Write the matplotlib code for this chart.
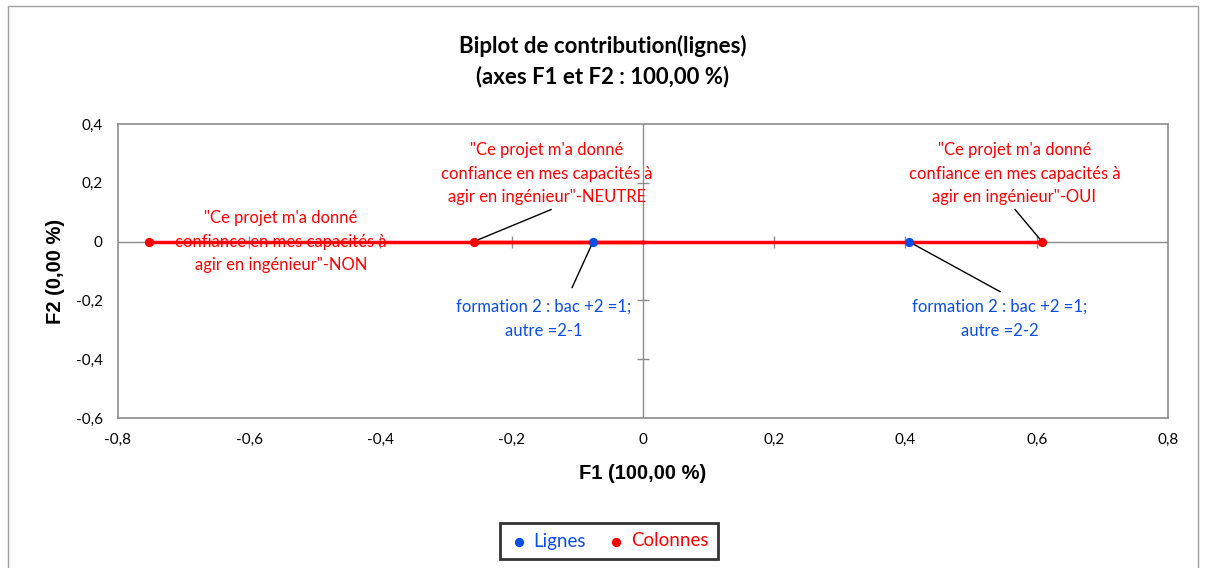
import matplotlib
matplotlib.use('Agg')
from matplotlib import pyplot as plt
from matplotlib.patches import Rectangle

plt.rcParams['font.family'] = ['Lato', 'DejaVu Sans']

# donnees
lignes_noms = ['formation 2 : bac +2 =1;\nautre =2-1', 'formation 2 : bac +2 =1;\nautre =2-2']
lignes_f1 = [-0.076, 0.405]
lignes_f2 = [0.0, 0.0]

colonnes_noms = ['"Ce projet m\'a donné\nconfiance en mes capacités à\nagir en ingénieur"-NON',
                 '"Ce projet m\'a donné\nconfiance en mes capacités à\nagir en ingénieur"-NEUTRE',
                 '"Ce projet m\'a donné\nconfiance en mes capacités à\nagir en ingénieur"-OUI']
colonnes_f1 = [-0.752, -0.258, 0.608]
colonnes_f2 = [0.0, 0.0, 0.0]

xticks = [-0.8, -0.6, -0.4, -0.2, 0, 0.2, 0.4, 0.6, 0.8]
yticks = [-0.6, -0.4, -0.2, 0, 0.2, 0.4]

# position des etiquettes (texte) et fin du trait de rappel
lignes_txt = [(-0.151, -0.262), (0.543, -0.262)]
lignes_trait = [(-0.108, -0.156), (0.544, -0.170)]
colonnes_txt = [(-0.552, 0.0), (-0.146, 0.231), (0.566, 0.231)]
colonnes_trait = [None, (-0.140, 0.109), (0.567, 0.109)]

bleu = '#0a4ee8'
rouge = '#ff0000'
gris = '#8c8c8c'

fig = plt.figure(figsize=(12.06, 5.68), dpi=100)
ax = fig.add_axes([0.0978, 0.264, 0.8707, 0.5177])

# cadre exterieur
fig.patches.append(Rectangle((8 / 1206, -0.05), 1190 / 1206, 1.04, transform=fig.transFigure,
                             fill=False, edgecolor='#a0a0a0', linewidth=1))

# axes a zero
ax.axhline(0, color=gris, lw=1, zorder=1)
ax.axvline(0, color=gris, lw=1, zorder=1)
# petites graduations en croix sur les axes a zero
for t in xticks[1:-1]:
    if t != 0:
        ax.plot(t, 0, marker='|', ms=9, color=gris, mew=1, zorder=1)
for t in yticks[1:-1]:
    if t != 0:
        ax.plot(0, t, marker='_', ms=9, color=gris, mew=1, zorder=1)

# vecteurs des colonnes
for x, y in zip(colonnes_f1, colonnes_f2):
    ax.plot([0, x], [0, y], color=rouge, lw=2.5, zorder=2)

ax.scatter(lignes_f1, lignes_f2, s=32, color=bleu, zorder=4, label='Lignes')
ax.scatter(colonnes_f1, colonnes_f2, s=32, color=rouge, zorder=4, label='Colonnes')

for (px, py), (tx, ty), tr, nom in zip(zip(lignes_f1, lignes_f2), lignes_txt, lignes_trait, lignes_noms):
    ax.plot([px, tr[0]], [py, tr[1]], color='black', lw=1, zorder=3)
    ax.text(tx, ty, nom, color=bleu, ha='center', va='center', fontsize=12,
            linespacing=1.6, zorder=5)

for (px, py), (tx, ty), tr, nom in zip(zip(colonnes_f1, colonnes_f2), colonnes_txt, colonnes_trait, colonnes_noms):
    if tr is not None:
        ax.plot([px, tr[0]], [py, tr[1]], color='black', lw=1, zorder=3)
    ax.text(tx, ty, nom, color=rouge, ha='center', va='center', fontsize=12,
            linespacing=1.6, zorder=5)

ax.set_xlim(-0.8, 0.8)
ax.set_ylim(-0.6, 0.4)
ax.set_xticks(xticks)
ax.set_yticks(yticks)
ax.set_xticklabels([('%g' % t).replace('.', ',') for t in xticks], fontsize=11)
ax.set_yticklabels([('%g' % t).replace('.', ',') for t in yticks], fontsize=11)
ax.tick_params(axis='x', length=0, pad=11)
ax.tick_params(axis='y', length=0, pad=11)
for s in ax.spines.values():
    s.set_color(gris)
    s.set_linewidth(1.2)

ax.set_xlabel('F1 (100,00 %)', fontsize=14.5, fontweight='bold', labelpad=12,
              family=['Liberation Sans'])
ax.set_ylabel('F2 (0,00 %)', fontsize=14.5, fontweight='bold', labelpad=8,
              family=['Liberation Sans'])
fig.text(0.5, 1 - 61 / 568, 'Biplot de contribution(lignes)\n(axes F1 et F2 : 100,00 %)',
         ha='center', va='center', fontsize=16, fontweight='bold', linespacing=1.45)

leg = fig.legend(loc='center', bbox_to_anchor=(609 / 1206, 1 - 541 / 568), ncol=2,
                 frameon=True, fancybox=False, edgecolor='black', handletextpad=0.3,
                 columnspacing=1.1, handlelength=1.0, borderpad=0.5, prop={'size': 13.5})
leg.get_frame().set_linewidth(2)
for txt, c in zip(leg.get_texts(), [bleu, rouge]):
    txt.set_color(c)

plt.savefig('out.png', dpi=100)
